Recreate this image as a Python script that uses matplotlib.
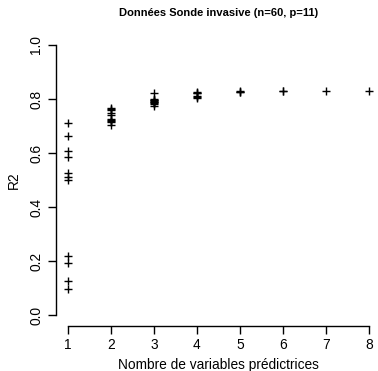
import matplotlib
matplotlib.use("Agg")
import matplotlib.pyplot as plt

plt.rcParams['font.family'] = ['Liberation Sans', 'DejaVu Sans']

# R2 of the best models for each number of predictors
r2_k1 = [0.710, 0.663, 0.608, 0.584, 0.527, 0.512, 0.500, 0.219, 0.194, 0.127, 0.095]
r2_k2 = [0.768, 0.764, 0.760, 0.748, 0.741, 0.727, 0.722, 0.718, 0.714, 0.704]
r2_k3 = [0.823, 0.801, 0.798, 0.795, 0.793, 0.790, 0.788, 0.785, 0.783, 0.774]
r2_k4 = [0.826, 0.824, 0.822, 0.810, 0.808, 0.805]
r2_k5 = [0.828, 0.827, 0.826]
r2_k6 = [0.829, 0.828]
r2_k7 = [0.831]
r2_k8 = [0.831]

all_r2 = [r2_k1, r2_k2, r2_k3, r2_k4, r2_k5, r2_k6, r2_k7, r2_k8]
n_vars = list(range(1, 9))

title = "Données Sonde invasive (n=60, p=11)"
xlabel = "Nombre de variables prédictrices"
ylabel = "R2"
yticks = [0.0, 0.2, 0.4, 0.6, 0.8, 1.0]
ytick_labels = ["0.0", "0.2", "0.4", "0.6", "0.8", "1.0"]

fig = plt.figure(figsize=(3.78, 3.71), dpi=100)
ax = fig.add_axes([0.147, 0.1218, 0.862, 0.786])

for k, vals in zip(n_vars, all_r2):
    ax.plot([k] * len(vals), vals, linestyle='none', marker='+',
            markersize=6, markeredgewidth=1.0, color='black')

ax.set_xlim(0.72, 8.28)
ax.set_ylim(-0.04, 1.04)

for s in ['top', 'right']:
    ax.spines[s].set_visible(False)
ax.spines['left'].set_bounds(0, 1)
ax.spines['bottom'].set_bounds(1, 8)
for s in ['left', 'bottom']:
    ax.spines[s].set_linewidth(1.0)

ax.set_xticks(n_vars)
ax.set_xticklabels([str(k) for k in n_vars])
ax.set_yticks(yticks)
ax.set_yticklabels(ytick_labels, rotation=90, va='center')
ax.tick_params(axis='both', direction='out', length=6, width=1.0,
               labelsize=9.9, pad=3)

ax.set_xlabel(xlabel, fontsize=9.9, labelpad=4)
ax.set_ylabel(ylabel, fontsize=9.9, labelpad=6)

# title centred over the plotting region
fig.text(0.147 + 0.862 / 2, 1 - 13 / 371, title, fontsize=8,
         fontweight='bold', ha='center', va='center')

fig.savefig("out.png", dpi=100)
